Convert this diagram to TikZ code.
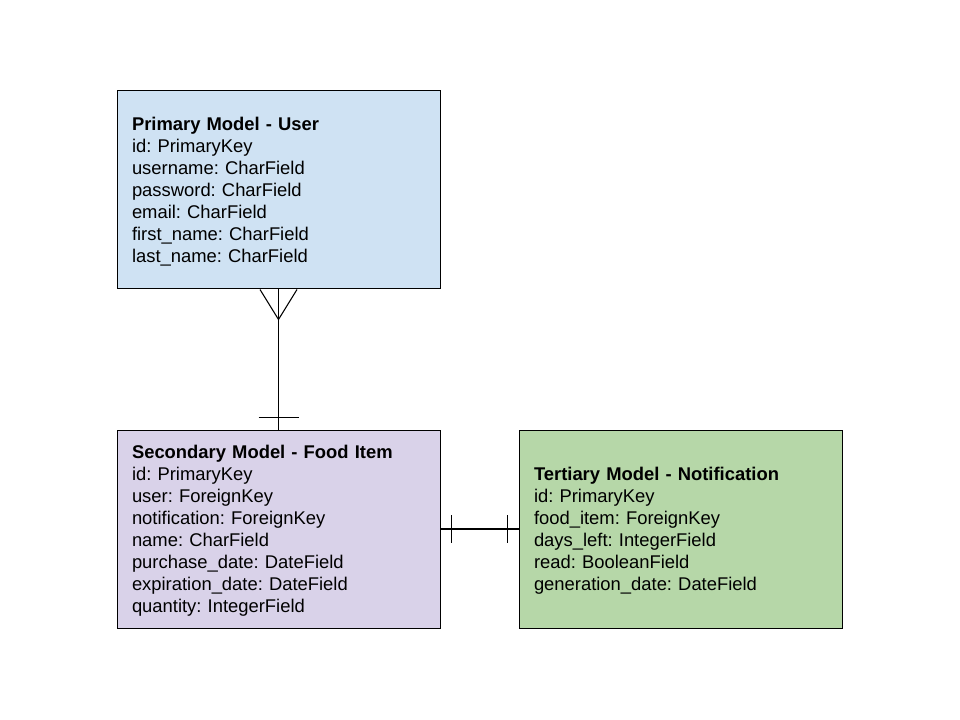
\documentclass[tikz,border=0pt]{standalone}
\usepackage{fontspec}
\setmainfont{Liberation Sans}
\usetikzlibrary{calc}
\definecolor{ublue}{HTML}{CFE2F3}
\definecolor{upurple}{HTML}{D9D2E9}
\definecolor{ugreen}{HTML}{B6D7A8}
\frenchspacing
\tikzset{
  model/.style={draw=black, line width=0.75pt, minimum width=242.25pt, minimum height=148.5pt,
    text width=219.75pt, inner xsep=11.25pt, align=left, font=\fontsize{13.8}{16.5}\selectfont\frenchspacing},
  conn/.style={draw=black, line width=0.8pt}
}
\begin{document}
\begin{tikzpicture}[x=0.75pt,y=-0.75pt]
\useasboundingbox (0,0) rectangle (960,720);
\node[model, fill=ublue] (user) at (278.5,190) {};
\node[model, fill=upurple] (food) at (278.5,529) {};
\node[model, fill=ugreen] (notif) at (680.5,529) {};
\node[model, draw=none, anchor=center] (usert) at (278.5,192) {\textbf{Primary Model - User}\\id: PrimaryKey\\username: CharField\\password: CharField\\email: CharField\\first\_name: CharField\\last\_name: CharField};
\node[model, draw=none] (foodt) at (278.5,531) {\textbf{Secondary Model - Food Item}\\id: PrimaryKey\\user: ForeignKey\\notification: ForeignKey\\name: CharField\\purchase\_date: DateField\\expiration\_date: DateField\\quantity: IntegerField};
\node[model, draw=none] (notift) at (680.5,531) {\textbf{Tertiary Model - Notification}\\id: PrimaryKey\\food\_item: ForeignKey\\days\_left: IntegerField\\read: BooleanField\\generation\_date: DateField};
% user -- food
\draw[conn] (user.south) -- (food.north);
\coordinate (cf) at ($(user.south)+(0,30)$);
\draw[conn] ($(user.south)+(-18.5,0)$) -- (cf) -- ($(user.south)+(18.5,0)$);
\draw[conn] ($(food.north)+(-20,-12)$) -- ($(food.north)+(20,-12)$);
% food -- notif
\draw[conn] (food.east) -- (notif.west);
\draw[conn] ($(food.east)+(11,-14)$) -- ($(food.east)+(11,14)$);
\draw[conn] ($(notif.west)+(-11,-14)$) -- ($(notif.west)+(-11,14)$);
\end{tikzpicture}
\end{document}
